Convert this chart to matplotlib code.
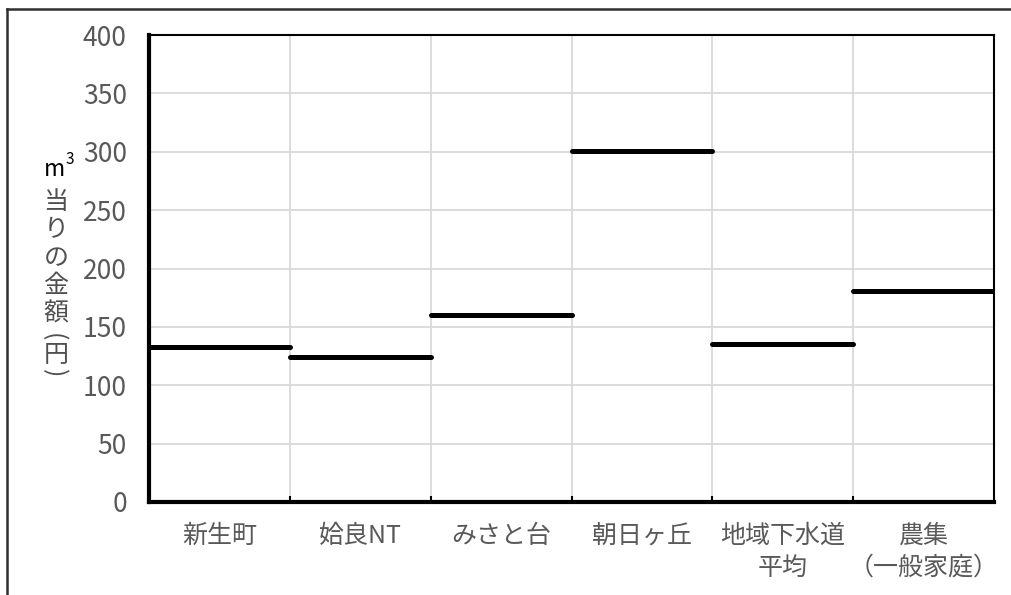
import matplotlib
matplotlib.use("Agg")
import matplotlib.pyplot as plt
from matplotlib.lines import Line2D

plt.rcParams['font.family'] = ['Noto Sans CJK JP', 'DejaVu Sans']

# Price per cubic metre for each district
categories = ["新生町", "姶良NT", "みさと台", "朝日ヶ丘", "地域下水道\n平均", "農集\n（一般家庭）"]
values = [133, 124, 160, 301, 135, 181]
y_ticks = [0, 50, 100, 150, 200, 250, 300, 350, 400]

W, H = 1011, 595
fig = plt.figure(figsize=(W / 100, H / 100), dpi=100)
fig.patch.set_facecolor("white")

left, right, top, bottom = 149, 994, 35, 502
ax = fig.add_axes([left / W, 1 - bottom / H, (right - left) / W, (bottom - top) / H])

n = len(categories)
ax.set_xlim(0, n)
ax.set_ylim(0, 400)

# One horizontal bar per category, spanning the full category width
for i, v in enumerate(values):
    ax.hlines(v, i, i + 1, colors="black", linewidth=3.6, capstyle="round", zorder=3)

grid_c = "#d9d9d9"
ax.set_yticks(y_ticks)
ax.set_yticklabels([str(t) for t in y_ticks])
for t in y_ticks[1:]:
    ax.axhline(t, color=grid_c, linewidth=1.3, zorder=1)
for b in range(1, n):
    ax.axvline(b, color=grid_c, linewidth=1.3, zorder=1)

# Category boundaries as inner ticks, labels centred in each category
ax.set_xticks(range(1, n))
ax.set_xticklabels([])
ax.tick_params(axis="x", which="major", direction="in", length=4, width=1.5, color="black")
ax.set_xticks([i + 0.5 for i in range(n)], minor=True)
ax.set_xticklabels(categories, minor=True, fontsize=18, color="#595959", linespacing=1.3)
ax.tick_params(axis="x", which="minor", length=0, pad=15)
ax.tick_params(axis="y", length=0, pad=16, labelsize=19, labelcolor="#595959")

for side in ("left", "bottom"):
    ax.spines[side].set_linewidth(3)
    ax.spines[side].set_color("black")
for side in ("top", "right"):
    ax.spines[side].set_linewidth(1.5)
    ax.spines[side].set_color("black")

# Axis title: "m³" then vertically stacked characters
def fy(y):
    return 1 - y / H

fig.text(55 / W, fy(169), "m", fontsize=16.5, color="black", ha="center", va="center")
fig.text(70 / W, fy(160), "3", fontsize=11, color="black", ha="center", va="center")
title_chars = [("当", 56, 202), ("り", 56, 230), ("の", 56, 258), ("金", 56, 286),
               ("額", 56, 314), ("(", 52.5, 337.5), ("円", 56, 355), (")", 54, 373.5)]
for ch, x, y in title_chars:
    rot = -90 if ch in "()" else 0
    fig.text(x / W, fy(y), ch, fontsize=18, color="#505050",
             ha="center", va="center", rotation=rot)

# Outer frame (left and top edges)
fig.add_artist(Line2D([7 / W, 7 / W], [0, fy(8.5)], transform=fig.transFigure, color="#303030", linewidth=1.8))
fig.add_artist(Line2D([7 / W, 1.01], [fy(8.5), fy(8.5)], transform=fig.transFigure, color="#303030", linewidth=1.8))

fig.savefig("out.png", dpi=100, facecolor="white")
